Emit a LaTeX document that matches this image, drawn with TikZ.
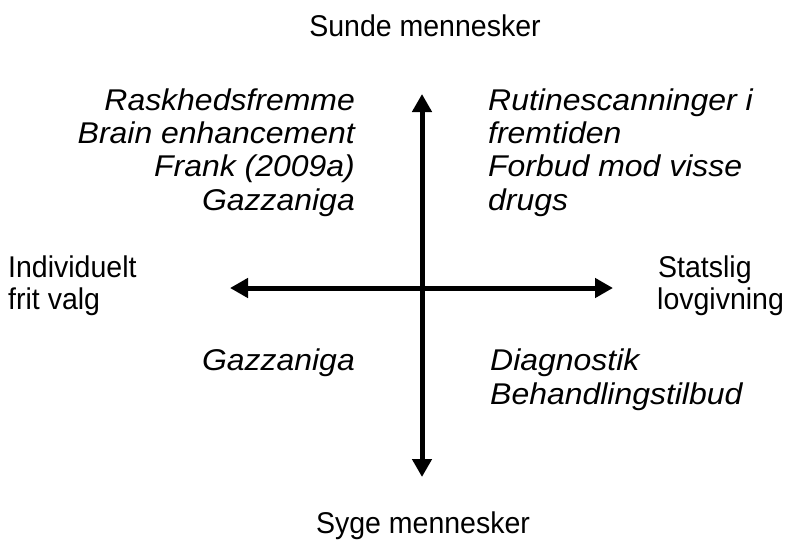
\documentclass[tikz,border=0pt]{standalone}
\usepackage{fontspec}
\usepackage{graphicx}
\setmainfont{Liberation Sans}
\usetikzlibrary{arrows.meta}
\newcommand\rtx[1]{\scalebox{0.95}[1]{#1}}
\newcommand\itx[1]{\scalebox{1.065}[1]{\itshape #1}}
\begin{document}
\begin{tikzpicture}[x=1pt,y=-1pt,
  lbl/.style={inner sep=0pt,font=\fontsize{30}{33}\selectfont},
  ital/.style={lbl},
  axis/.style={line width=5pt,{Triangle[length=18pt,width=19pt]}-{Triangle[length=18pt,width=19pt]}}]
\useasboundingbox (0,0) rectangle (788,544);
\coordinate (top) at (422,94);
\coordinate (bot) at (422,477);
\coordinate (lft) at (230,288);
\coordinate (rgt) at (613,288);
\draw[axis] (bot) -- (top);
\draw[axis] (lft) -- (rgt);
\node[lbl,anchor=base] (sunde) at (425,36) {\rtx{Sunde mennesker}};
\node[lbl,anchor=base] (syge) at (423,533) {\rtx{Syge mennesker}};
\node[ital,anchor=base east] (l1) at (355,110) {\itx{Raskhedsfremme}};
\node[ital,anchor=base east] (l2) at (355,143.3) {\itx{Brain enhancement}};
\node[ital,anchor=base east] (l3) at (355,176.6) {\itx{Frank (2009a)}};
\node[ital,anchor=base east] (l4) at (355,210) {\itx{Gazzaniga}};
\node[ital,anchor=base west] (r1) at (488,110) {\itx{Rutinescanninger i}};
\node[ital,anchor=base west] (r2) at (488,143.3) {\itx{fremtiden}};
\node[ital,anchor=base west] (r3) at (488,176.6) {\itx{Forbud mod visse}};
\node[ital,anchor=base west] (r4) at (488,210) {\itx{drugs}};
\node[lbl,anchor=base west] (i1) at (8,277) {\rtx{Individuelt}};
\node[lbl,anchor=base west] (i2) at (8,309) {\rtx{frit valg}};
\node[lbl,anchor=base west] (s1) at (658,277) {\rtx{Statslig}};
\node[lbl,anchor=base west] (s2) at (657,309) {\rtx{lovgivning}};
\node[ital,anchor=base east] (g) at (355,370) {\itx{Gazzaniga}};
\node[ital,anchor=base west] (d1) at (490,370) {\itx{Diagnostik}};
\node[ital,anchor=base west] (d2) at (490,404) {\itx{Behandlingstilbud}};
\end{tikzpicture}
\end{document}
